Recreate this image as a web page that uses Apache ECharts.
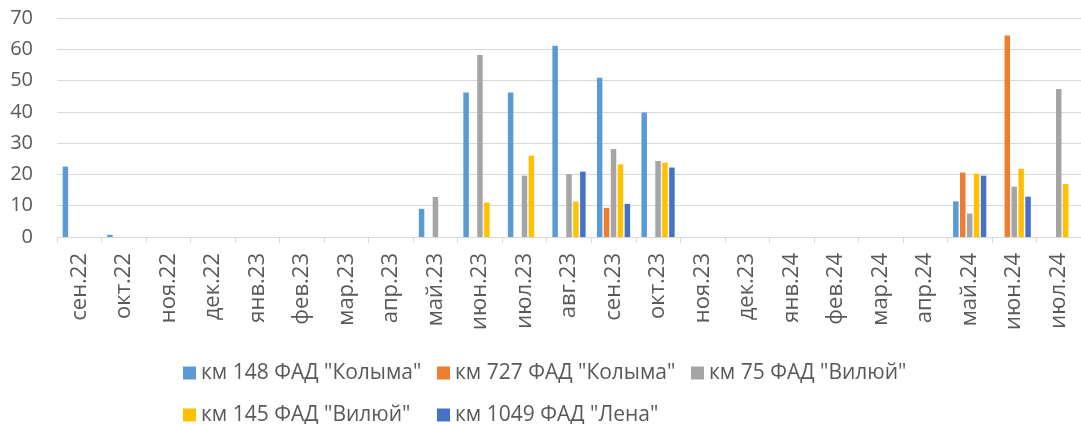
<!DOCTYPE html>
<html>
<head>
<meta charset="utf-8">
<style>
  html, body { margin: 0; padding: 0; background: #ffffff; }
  #chart { width: 1081px; height: 424px; }
</style>
<script src="https://cdn.jsdelivr.net/npm/echarts@6/dist/echarts.min.js"></script>
</head>
<body>
<div id="chart"></div>
<script>
// Months of observation
const months = ['сен.22','окт.22','ноя.22','дек.22','янв.23','фев.23','мар.23','апр.23',
  'май.23','июн.23','июл.23','авг.23','сен.23','окт.23','ноя.23','дек.23',
  'янв.24','фев.24','мар.24','апр.24','май.24','июн.24','июл.24'];

// Values per monitoring point (null = no measurement that month)
const kolyma148 = [22.5, 0.7, null, null, null, null, null, null,
  9.0, 46.2, 46.2, 61.1, 50.9, 39.8, null, null,
  null, null, null, null, 11.4, null, null];
const kolyma727 = [null, null, null, null, null, null, null, null,
  null, null, null, null, 9.3, null, null, null,
  null, null, null, null, 20.6, 64.4, null];
const viluy75 = [null, null, null, null, null, null, null, null,
  12.8, 58.2, 19.6, 20.1, 28.1, 24.3, null, null,
  null, null, null, null, 7.5, 16.1, 47.3];
const viluy145 = [null, null, null, null, null, null, null, null,
  null, 11.0, 26.0, 11.3, 23.2, 23.8, null, null,
  null, null, null, null, 20.2, 21.8, 16.9];
const lena1049 = [null, null, null, null, null, null, null, null,
  null, null, null, 20.9, 10.6, 22.2, null, null,
  null, null, null, null, 19.6, 12.9, null];

const seriesNames = ['км 148 ФАД "Колыма"', 'км 727 ФАД "Колыма"', 'км 75 ФАД "Вилюй"',
  'км 145 ФАД "Вилюй"', 'км 1049 ФАД "Лена"'];
const seriesData = [kolyma148, kolyma727, viluy75, viluy145, lena1049];
const colors = ['#5B9BD5', '#ED7D31', '#A5A5A5', '#FFC000', '#4472C4'];

const FONT = 'Open Sans';
const TEXT = '#595959';

const legendBase = {
  left: 183,
  padding: 0,
  icon: 'rect',
  itemWidth: 13,
  itemHeight: 13,
  itemGap: 13,
  textStyle: { fontFamily: FONT, fontSize: 21, color: TEXT, width: 223, lineHeight: 24, overflow: 'none' }
};

const chart = echarts.init(document.getElementById('chart'), null, { renderer: 'canvas' });
chart.setOption({
  animation: false,
  color: colors,
  grid: { left: 57, top: 18, width: 1030.4, height: 219, containLabel: false },
  legend: [
    Object.assign({}, legendBase, { top: 361, data: seriesNames.slice(0, 3) }),
    Object.assign({}, legendBase, { top: 403, data: seriesNames.slice(3) })
  ],
  xAxis: {
    type: 'category',
    data: months,
    boundaryGap: true,
    axisLine: { show: true, lineStyle: { color: '#d9d9d9', width: 1 } },
    axisTick: { show: true, alignWithLabel: false, length: 6, lineStyle: { color: '#d9d9d9' } },
    axisLabel: { rotate: 90, margin: 16, fontFamily: FONT, fontSize: 22, color: TEXT, interval: 0 }
  },
  yAxis: {
    type: 'value',
    min: 0,
    max: 70,
    interval: 10,
    axisLine: { show: false },
    axisTick: { show: false },
    axisLabel: { margin: 24, fontFamily: FONT, fontSize: 20, color: TEXT },
    splitLine: { lineStyle: { color: '#d9d9d9', width: 1 } }
  },
  series: seriesNames.map((name, i) => ({
    name: name,
    type: 'bar',
    data: seriesData[i],
    barWidth: 5.5,
    barGap: '26%',
    itemStyle: { color: colors[i] }
  }))
});
</script>
</body>
</html>
